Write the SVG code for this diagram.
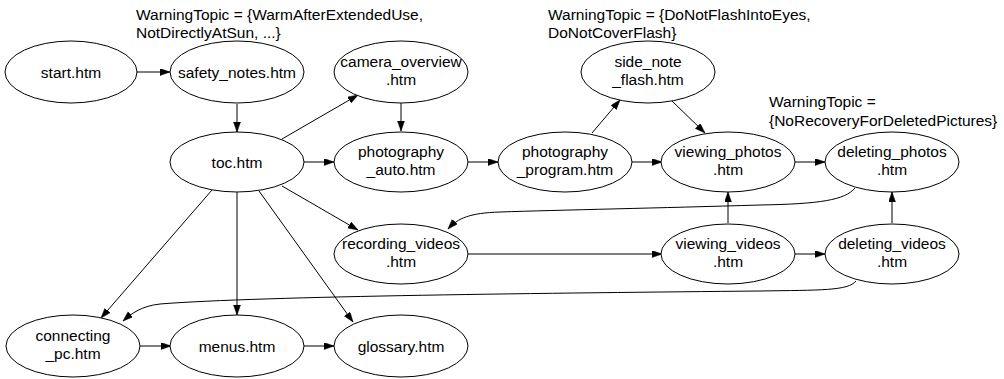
<svg xmlns="http://www.w3.org/2000/svg" width="1004" height="379" viewBox="0 0 1004 379">
  <style>
    .node ellipse { fill: #ffffff; stroke: #000000; stroke-width: 1; }
    text { font-family: "Liberation Sans", Arial, Helvetica, sans-serif; font-size: 15.5px; fill: #000000; }
    .node text { text-anchor: middle; }
    .edge { fill: none; stroke: #000000; stroke-width: 1; marker-end: url(#arrow); }
  </style>
  <defs>
    <marker id="arrow" markerUnits="userSpaceOnUse" markerWidth="11" markerHeight="8" refX="10" refY="3.5" orient="auto">
      <path d="M0,0 L10,3.5 L0,7 z" fill="#000000" stroke="#000000" stroke-width="0.5"/>
    </marker>
  </defs>
  <rect width="1004" height="379" fill="#ffffff"/>

  <!-- warning annotations -->
  <g id="warnings">
    <text x="136" y="20">WarningTopic = {WarmAfterExtendedUse,</text>
    <text x="136" y="38">NotDirectlyAtSun, ...}</text>
    <text x="548" y="20">WarningTopic = {DoNotFlashIntoEyes,</text>
    <text x="548" y="38">DoNotCoverFlash}</text>
    <text x="769" y="107">WarningTopic =</text>
    <text x="769" y="126">{NoRecoveryForDeletedPictures}</text>
  </g>

  <!-- connectors -->
  <g id="edges">
    <path class="edge" d="M137,72 L170,72"/>
    <path class="edge" d="M237,104 L237,132"/>
    <path class="edge" d="M282,139 L358,95"/>
    <path class="edge" d="M401,103 L401,131"/>
    <path class="edge" d="M304,162 L334,162"/>
    <path class="edge" d="M282,186 L358,230"/>
    <path class="edge" d="M212,190 L101,318"/>
    <path class="edge" d="M237,192 L237,315"/>
    <path class="edge" d="M259,191 L353,322"/>
    <path class="edge" d="M468,162 L498,162"/>
    <path class="edge" d="M592,133 L620,100"/>
    <path class="edge" d="M672,101 L705,133"/>
    <path class="edge" d="M632,162 L662,162"/>
    <path class="edge" d="M795,162 L825,162"/>
    <path class="edge" d="M855,188 C845,200 820,204 760,205 C660,208 560,210 500,212 C470,213 458,218 448,229"/>
    <path class="edge" d="M468,254 L662,254"/>
    <path class="edge" d="M728,223 L728,192"/>
    <path class="edge" d="M795,254 L825,254"/>
    <path class="edge" d="M892,223 L892,192"/>
    <path class="edge" d="M856,281 C848,291 820,290 760,291 C560,293 260,296 160,304 C142,306 132,313 123,321"/>
    <path class="edge" d="M140,346 L171,346"/>
    <path class="edge" d="M304,346 L334,346"/>
  </g>

  <!-- pages -->
  <g id="start" class="node">
    <ellipse cx="71" cy="72" rx="66" ry="31"/>
    <text x="71" y="77.5">start.htm</text>
  </g>
  <g id="safety_notes" class="node">
    <ellipse cx="237" cy="72" rx="67" ry="31"/>
    <text x="237" y="77.5">safety_notes.htm</text>
  </g>
  <g id="camera_overview" class="node">
    <ellipse cx="401" cy="72" rx="67" ry="31"/>
    <text x="401" y="67">camera_overview</text>
    <text x="401" y="85">.htm</text>
  </g>
  <g id="side_note_flash" class="node">
    <ellipse cx="648" cy="72" rx="67" ry="31"/>
    <text x="648" y="67">side_note</text>
    <text x="648" y="85">_flash.htm</text>
  </g>
  <g id="toc" class="node">
    <ellipse cx="237" cy="162" rx="67" ry="30"/>
    <text x="237" y="167.5">toc.htm</text>
  </g>
  <g id="photography_auto" class="node">
    <ellipse cx="401" cy="162" rx="67" ry="30"/>
    <text x="401" y="157">photography</text>
    <text x="401" y="175">_auto.htm</text>
  </g>
  <g id="photography_program" class="node">
    <ellipse cx="565" cy="162" rx="67" ry="30"/>
    <text x="565" y="157">photography</text>
    <text x="565" y="175">_program.htm</text>
  </g>
  <g id="viewing_photos" class="node">
    <ellipse cx="728" cy="162" rx="67" ry="30"/>
    <text x="728" y="157">viewing_photos</text>
    <text x="728" y="175">.htm</text>
  </g>
  <g id="deleting_photos" class="node">
    <ellipse cx="892" cy="162" rx="67" ry="30"/>
    <text x="892" y="157">deleting_photos</text>
    <text x="892" y="175">.htm</text>
  </g>
  <g id="recording_videos" class="node">
    <ellipse cx="401" cy="254" rx="67" ry="30"/>
    <text x="401" y="249">recording_videos</text>
    <text x="401" y="267">.htm</text>
  </g>
  <g id="viewing_videos" class="node">
    <ellipse cx="728" cy="254" rx="67" ry="30"/>
    <text x="728" y="249">viewing_videos</text>
    <text x="728" y="267">.htm</text>
  </g>
  <g id="deleting_videos" class="node">
    <ellipse cx="892" cy="254" rx="67" ry="30"/>
    <text x="892" y="249">deleting_videos</text>
    <text x="892" y="267">.htm</text>
  </g>
  <g id="connecting_pc" class="node">
    <ellipse cx="73" cy="346" rx="67" ry="31"/>
    <text x="73" y="341">connecting</text>
    <text x="73" y="359">_pc.htm</text>
  </g>
  <g id="menus" class="node">
    <ellipse cx="237" cy="346" rx="67" ry="31"/>
    <text x="237" y="351.5">menus.htm</text>
  </g>
  <g id="glossary" class="node">
    <ellipse cx="401" cy="346" rx="67" ry="31"/>
    <text x="401" y="351.5">glossary.htm</text>
  </g>
</svg>
